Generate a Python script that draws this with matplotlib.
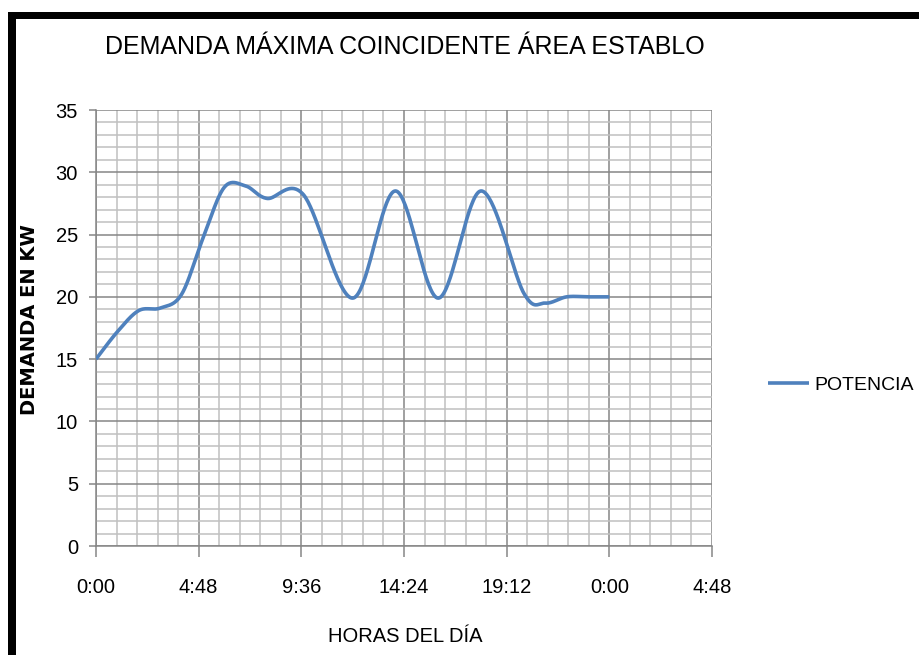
import numpy as np
import matplotlib
matplotlib.use("Agg")
import matplotlib.pyplot as plt
from matplotlib.patches import Rectangle
from matplotlib.ticker import MultipleLocator, FixedLocator

# ---- data ----
hours = [0, 1, 2, 3, 4, 5, 6, 7, 8, 9.7, 12, 14, 16, 18, 20, 21, 22, 23, 24]
potencia = [15.0, 17.2, 18.9, 19.1, 20.2, 24.7, 28.8, 28.9, 27.9, 28.2, 19.9,
            28.5, 19.9, 28.5, 20.3, 19.5, 20.0, 20.0, 20.0]
x_ticks = [0, 4.8, 9.6, 14.4, 19.2, 24.0, 28.8]
x_tick_labels = ["0:00", "4:48", "9:36", "14:24", "19:12", "0:00", "4:48"]
y_ticks = [0, 5, 10, 15, 20, 25, 30, 35]

title = "DEMANDA MÁXIMA COINCIDENTE ÁREA ESTABLO"
xlabel = "HORAS DEL DÍA"
ylabel = "DEMANDA EN KW"
series_name = "POTENCIA"


def excel_smooth(x, y, n=40):
    x = np.asarray(x, float)
    y = np.asarray(y, float)
    P = np.column_stack([x, y])
    out = []
    for i in range(len(P) - 1):
        p0 = P[i - 1] if i > 0 else P[i]
        p1 = P[i]
        p2 = P[i + 1]
        p3 = P[i + 2] if i + 2 < len(P) else P[i + 1]
        c1 = p1 + (p2 - p0) / 6.0
        c2 = p2 - (p3 - p1) / 6.0
        t = np.linspace(0, 1, n)[:, None]
        seg = ((1 - t) ** 3) * p1 + 3 * ((1 - t) ** 2) * t * c1 + 3 * (1 - t) * t ** 2 * c2 + t ** 3 * p2
        out.append(seg if i == 0 else seg[1:])
    s = np.vstack(out)
    return s[:, 0], s[:, 1]


FONT = ["Liberation Sans", "DejaVu Sans"]
plt.rcParams["font.family"] = FONT

fig = plt.figure(figsize=(9.2, 6.55), dpi=100)
W, H = 920, 655
ax = fig.add_axes([96 / W, 1 - 546 / H, (712 - 96) / W, (546 - 110) / H])

sx, sy = excel_smooth(hours, potencia)
ax.plot(sx, sy, color="#4F81BD", lw=2.6, solid_capstyle="butt", label=series_name, zorder=3)

ax.set_xlim(0, 28.8)
ax.set_ylim(0, 35)
ax.xaxis.set_major_locator(FixedLocator(x_ticks))
ax.set_xticklabels(x_tick_labels)
ax.xaxis.set_minor_locator(MultipleLocator(0.96))
ax.yaxis.set_major_locator(FixedLocator(y_ticks))
ax.yaxis.set_minor_locator(MultipleLocator(1))

ax.grid(which="major", color="#868686", lw=1.1, zorder=1)
ax.grid(which="minor", color="#C0C0C0", lw=1.1, zorder=0)
ax.set_axisbelow(True)
for s in ["top", "right"]:
    ax.spines[s].set_visible(False)
for s in ["left", "bottom"]:
    ax.spines[s].set_color("#868686")
    ax.spines[s].set_linewidth(1.1)
ax.tick_params(which="major", axis="x", length=8, color="#868686", width=1.1, pad=15, labelsize=14.5)
ax.tick_params(which="major", axis="y", length=5, color="#868686", width=1.1, pad=8, labelsize=14.5)
ax.tick_params(which="minor", length=0)

fig.text(405 / W, 1 - 47 / H, title, ha="center", va="center", fontsize=18, family=FONT)
fig.text(405 / W, 1 - 636 / H, xlabel, ha="center", va="center", fontsize=14.5, family=FONT)
fig.text(30 / W, 1 - 320 / H, ylabel, ha="center", va="center", rotation=90,
         fontsize=14, fontweight="bold", family=["DejaVu Sans"])

leg = ax.legend(loc="center left", bbox_to_anchor=(768 / W, 1 - 385 / H), bbox_transform=fig.transFigure,
                frameon=False, fontsize=14, handlelength=2.1, handletextpad=0.3, borderaxespad=0,
                borderpad=0)

# black frame (extends beyond the image on right and bottom)
fig.patches.append(Rectangle((8 / W, -0.1), 8 / W, 1 - 12 / H + 0.1, transform=fig.transFigure,
                             facecolor="black", edgecolor="none", zorder=10))
fig.patches.append(Rectangle((8 / W, 1 - 19 / H), 1.0, 7 / H, transform=fig.transFigure,
                             facecolor="black", edgecolor="none", zorder=10))

fig.savefig("out.png", dpi=100, facecolor="white")
